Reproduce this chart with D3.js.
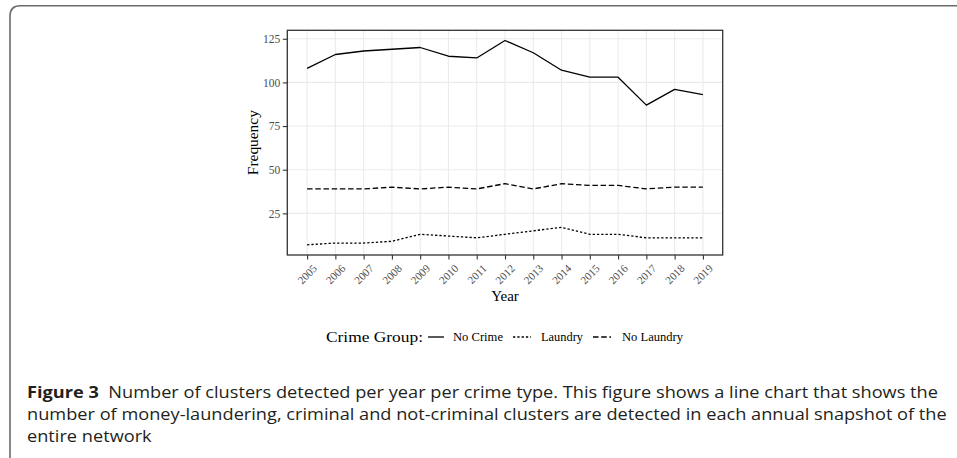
<!DOCTYPE html>
<html>
<head>
<meta charset="utf-8">
<script src="https://cdn.jsdelivr.net/npm/d3@7"></script>
<style>
  html, body { margin: 0; padding: 0; background: #fff; }
  svg { display: block; }
</style>
</head>
<body>
<svg id="fig" width="957" height="458"></svg>
<script>
// Annual cluster counts per crime group
const years = [2005, 2006, 2007, 2008, 2009, 2010, 2011, 2012, 2013, 2014, 2015, 2016, 2017, 2018, 2019];
const noCrime = [108, 116, 118, 119, 120, 115, 114, 124, 117, 107, 103, 103, 87, 96, 93];
const laundry = [7, 8, 8, 9, 13, 12, 11, 13, 15, 17, 13, 13, 11, 11, 11];
const noLaundry = [39, 39, 39, 40, 39, 40, 39, 42, 39, 42, 41, 41, 39, 40, 40];
const yTicks = [25, 50, 75, 100, 125];
const groupNames = ["No Crime", "Laundry", "No Laundry"];

const captionLines = [
  ["Figure 3", "  Number of clusters detected per year per crime type. This figure shows a line chart that shows the"],
  [null, "number of money-laundering, criminal and not-criminal clusters are detected in each annual snapshot of the"],
  [null, "entire network"]
];

const series = [
  { name: groupNames[0], values: noCrime, dash: null },
  { name: groupNames[1], values: laundry, dash: "2.3,2" },
  { name: groupNames[2], values: noLaundry, dash: "5.5,2.7" }
];

const svg = d3.select("#fig");
const serif = "'Liberation Serif', 'DejaVu Serif', serif";

// Figure frame with rounded top-left corner
svg.append("path")
  .attr("d", "M10,458 L10,16 Q10,5.7 20.3,5.7 L957,5.7")
  .attr("fill", "none").attr("stroke", "#6b6b6b").attr("stroke-width", 1.6);

// Panel geometry
const panel = { left: 287.3, right: 722.7, top: 30.3, bottom: 255 };

// Continuous scales with 5% expansion on both sides
const allVals = noCrime.concat(laundry, noLaundry);
const yMin = d3.min(allVals), yMax = d3.max(allVals);
const yPad = (yMax - yMin) * 0.05;
const xPad = (d3.max(years) - d3.min(years)) * 0.05;

const x = d3.scaleLinear()
  .domain([d3.min(years) - xPad, d3.max(years) + xPad])
  .range([panel.left, panel.right]);
const y = d3.scaleLinear()
  .domain([yMin - yPad, yMax + yPad])
  .range([panel.bottom, panel.top]);

// Panel background and grid
const g = svg.append("g");
g.append("rect")
  .attr("x", panel.left).attr("y", panel.top)
  .attr("width", panel.right - panel.left).attr("height", panel.bottom - panel.top)
  .attr("fill", "#fff");

g.selectAll(".gx").data(years).join("line")
  .attr("x1", d => x(d)).attr("x2", d => x(d))
  .attr("y1", panel.top).attr("y2", panel.bottom)
  .attr("stroke", "#ebebeb").attr("stroke-width", 1.1);
g.selectAll(".gy").data(yTicks).join("line")
  .attr("x1", panel.left).attr("x2", panel.right)
  .attr("y1", d => y(d)).attr("y2", d => y(d))
  .attr("stroke", "#ebebeb").attr("stroke-width", 1.1);

// Series lines
const line = d3.line().x((d, i) => x(years[i])).y(d => y(d));
series.forEach(s => {
  g.append("path")
    .attr("d", line(s.values))
    .attr("fill", "none")
    .attr("stroke", "#000")
    .attr("stroke-width", 1.3)
    .attr("stroke-linejoin", "round")
    .attr("stroke-dasharray", s.dash);
});

// Panel border
g.append("rect")
  .attr("x", panel.left).attr("y", panel.top)
  .attr("width", panel.right - panel.left).attr("height", panel.bottom - panel.top)
  .attr("fill", "none").attr("stroke", "#333").attr("stroke-width", 1.3);

// Axes
const yAxis = svg.append("g")
  .attr("transform", `translate(${panel.left},0)`)
  .call(d3.axisLeft(y).tickValues(yTicks).tickSize(4.5).tickPadding(2.5));
const xAxis = svg.append("g")
  .attr("transform", `translate(0,${panel.bottom})`)
  .call(d3.axisBottom(x).tickValues(years).tickSize(4.5).tickFormat(d3.format("d")));

[xAxis, yAxis].forEach(a => {
  a.select(".domain").remove();
  a.selectAll(".tick line").attr("stroke", "#333").attr("stroke-width", 1.1);
  a.selectAll(".tick text")
    .attr("fill", "#4d4d4d")
    .style("font-family", serif)
    .style("font-size", "11.5px");
});

xAxis.selectAll(".tick text")
  .style("font-size", "11px")
  .attr("text-anchor", "end")
  .attr("y", 0).attr("dy", 0)
  .attr("transform", "translate(4.5,8.5) rotate(-45)")
  .attr("dominant-baseline", "hanging");

// Axis titles
svg.append("text")
  .attr("x", (panel.left + panel.right) / 2).attr("y", 300.5)
  .attr("text-anchor", "middle")
  .style("font-family", serif).style("font-size", "15px")
  .attr("fill", "#000")
  .text("Year");
svg.append("text")
  .attr("transform", `translate(257.5,${(panel.top + panel.bottom) / 2}) rotate(-90)`)
  .attr("text-anchor", "middle")
  .style("font-family", serif).style("font-size", "15.5px")
  .attr("textLength", 65).attr("lengthAdjust", "spacingAndGlyphs")
  .attr("fill", "#000")
  .text("Frequency");

// Legend
const legendY = 337;
const leg = svg.append("g");
leg.append("text")
  .attr("x", 326).attr("y", legendY).attr("dy", "0.35em")
  .style("font-family", serif).style("font-size", "14.5px")
  .attr("textLength", 97).attr("lengthAdjust", "spacingAndGlyphs")
  .text("Crime Group:");

const legendItems = [
  { keyX: 428, keyW: 16, textX: 453, textW: 50 },
  { keyX: 513, keyW: 18, textX: 541, textW: 42 },
  { keyX: 593, keyW: 18, textX: 622, textW: 61 }
];
series.forEach((s, i) => {
  const it = legendItems[i];
  leg.append("line")
    .attr("x1", it.keyX).attr("x2", it.keyX + it.keyW)
    .attr("y1", legendY).attr("y2", legendY)
    .attr("stroke", "#000").attr("stroke-width", 1.3)
    .attr("stroke-dasharray", s.dash);
  leg.append("text")
    .attr("x", it.textX).attr("y", legendY).attr("dy", "0.35em")
    .style("font-family", serif).style("font-size", "12px")
    .attr("textLength", it.textW).attr("lengthAdjust", "spacingAndGlyphs")
    .text(s.name);
});

// Caption
const capFont = "'Open Sans', 'Noto Sans', sans-serif";
const capBase = [398, 420, 442];
const capNodes = captionLines.map((parts, i) => {
  const t = svg.append("text")
    .attr("y", 0)
    .style("font-family", capFont).style("font-size", "16px")
    .attr("fill", "#231f20");
  if (parts[0]) t.append("tspan").style("font-weight", "bold").text(parts[0]);
  t.append("tspan").attr("xml:space", "preserve").style("white-space", "pre").text(parts[1]);
  return t;
});
// Horizontal condensing so the wrapped lines fill the caption width
const w2 = capNodes[1].node().getComputedTextLength();
const k = (947 - 27) / w2;
capNodes.forEach((t, i) => {
  t.attr("transform", `translate(27,${capBase[i]}) scale(${k},1)`);
});
</script>
</body>
</html>
